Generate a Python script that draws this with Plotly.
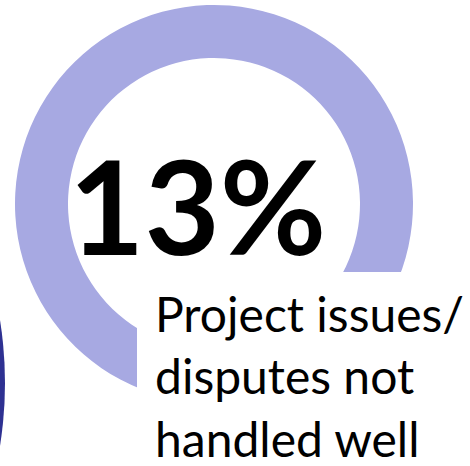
import plotly.graph_objects as go

W, H = 470, 466

# Data
labels = ["Project issues/ disputes not handled well", "Other reasons"]
values = [13, 87]
headline = "13%"
caption_lines = ["Project issues/", "disputes not", "handled well"]

ring_color = "#A7A9E2"
dark_color = "#2E3192"

def px(x):
    return x / W

def py(y):
    return 1 - y / H

# ring geometry (pixels)
cx, cy, r_out, r_in = 214, 204, 199, 146

fig = go.Figure()
fig.add_trace(go.Pie(
    labels=labels,
    values=values,
    hole=r_in / r_out,
    sort=False,
    direction="clockwise",
    rotation=135,
    marker=dict(colors=[ring_color, ring_color], line=dict(width=0)),
    textinfo="none",
    hoverinfo="label+percent",
    showlegend=False,
    domain=dict(x=[px(cx - r_out), px(cx + r_out)], y=[py(cy + r_out), py(cy - r_out)]),
))

shapes = [
    # neighbouring (cut-off) dark ring sliver on the left edge
    dict(type="circle", xref="paper", yref="paper", layer="above",
         x0=px(5 - 2 * 398), x1=px(5), y0=py(383 + 398), y1=py(383 - 398),
         fillcolor=dark_color, line=dict(width=0)),
    # white text box that covers the ring's bottom-right part
    dict(type="rect", xref="paper", yref="paper", layer="above",
         x0=px(137), x1=px(W + 20), y0=py(H + 20), y1=py(272),
         fillcolor="white", line=dict(width=0)),
]

annotations = [
    dict(text=f"<b>{headline}</b>", x=px(197.5), y=py(205), xref="paper", yref="paper",
         xanchor="center", yanchor="middle", showarrow=False,
         font=dict(family="Lato", size=130, color="black")),
]
for i, line in enumerate(caption_lines):
    annotations.append(dict(
        text=line, x=px(153), y=py(313.4 + 62.5 * i), xref="paper", yref="paper",
        xanchor="left", yanchor="middle", showarrow=False,
        font=dict(family="Lato", size=48, color="black")))

fig.update_layout(
    width=W, height=H,
    margin=dict(l=0, r=0, t=0, b=0),
    paper_bgcolor="white", plot_bgcolor="white",
    shapes=shapes, annotations=annotations,
    showlegend=False,
)

fig.write_html("out.html")
